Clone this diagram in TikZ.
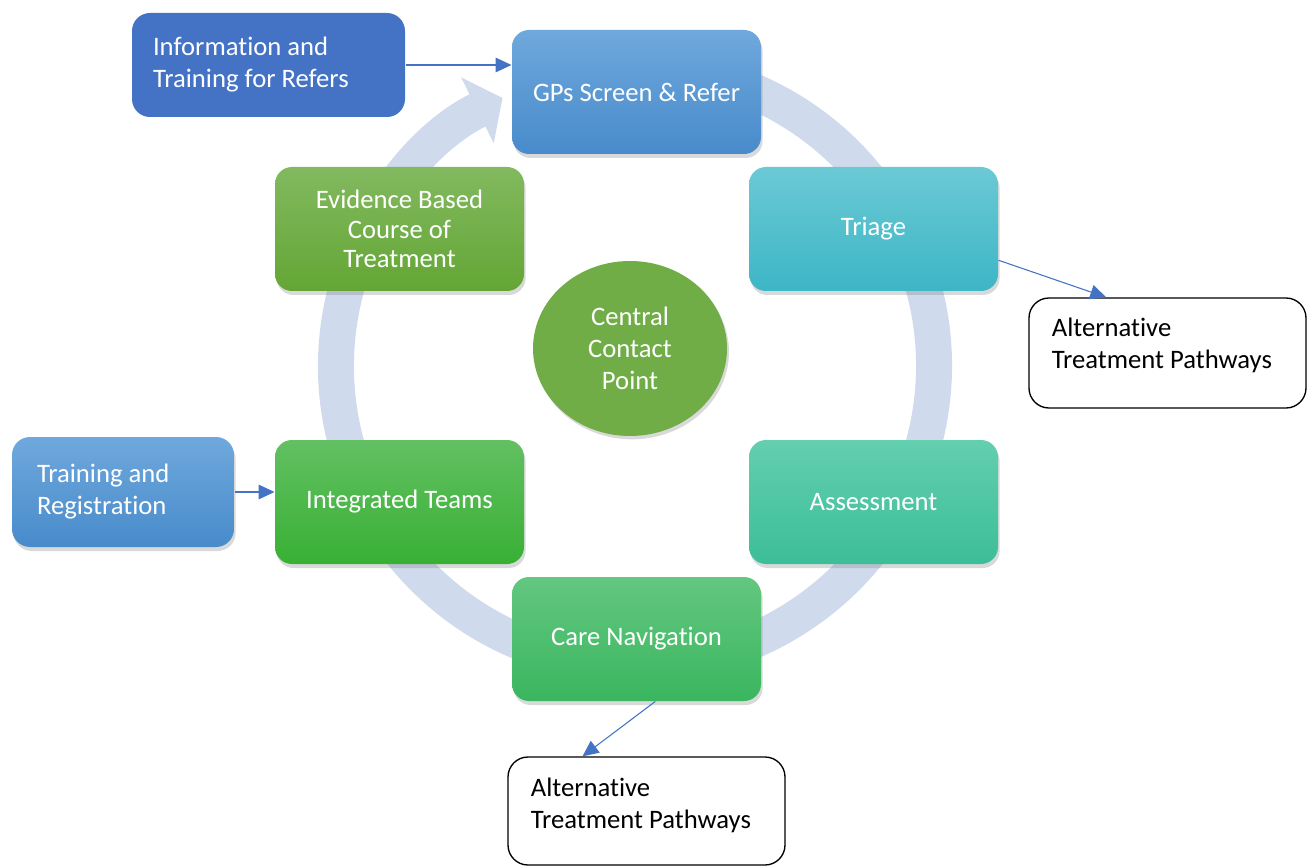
\documentclass[tikz,border=0pt]{standalone}
\usepackage{fontspec}
\setmainfont{Carlito}[Ligatures=NoCommon]
\usetikzlibrary{arrows.meta,shadows,calc,shapes.geometric}

\tikzset{every picture/.style={line width=0.75pt}}
\tikzset{
  stage/.style={rectangle, rounded corners=12.75pt, minimum width=186.75pt, minimum height=93pt,
    inner sep=0pt, align=center, text=white, font=\fontsize{20}{24}\selectfont,
    drop shadow={shadow xshift=1.2pt, shadow yshift=-3pt, opacity=0.3}},
  sidebox/.style={rectangle, rounded corners=13.5pt, inner ysep=0pt, align=flush left,
    text=white, font=\fontsize{20}{24}\selectfont},
  altbox/.style={rectangle, rounded corners=15pt, draw=black, line width=1pt, fill=white,
    minimum width=207.75pt, minimum height=82.5pt},
  alttext/.style={inner sep=0pt, align=left, anchor=north west, font=\fontsize{20}{24}\selectfont},
  link/.style={draw={rgb, 255:red, 68; green, 114; blue, 196 }, line width=0.8pt,
    -{Triangle[length=12pt,width=11pt]}},
  ringarrow/.style={draw={rgb, 255:red, 207; green, 219; blue, 237 }, line width=27pt,
    -{Triangle[length=21pt,width=54pt]}}
}

\begin{document}
\begin{tikzpicture}[x=0.75pt,y=0.75pt,yscale=-1,xscale=1]
\useasboundingbox (0,0) rectangle (1307,866);

%Circular arrow behind the stages
\coordinate (ringc) at (635,366);
\draw[ringarrow] ([shift={(280:299)}]ringc) arc[start angle=280, end angle=603.7, radius=299];

%Stages round the cycle
\node[stage, top color={rgb, 255:red, 111; green, 168; blue, 220 }, bottom color={rgb, 255:red, 72; green, 139; blue, 203 }] (gps) at (636.5,92) {GPs Screen \& Refer};
\node[stage, top color={rgb, 255:red, 107; green, 201; blue, 212 }, bottom color={rgb, 255:red, 61; green, 182; blue, 198 }] (triage) at (873.5,229) {Triage};
\node[stage, top color={rgb, 255:red, 99; green, 207; blue, 175 }, bottom color={rgb, 255:red, 60; green, 190; blue, 152 }] (assess) at (873.5,502) {Assessment};
\node[stage, top color={rgb, 255:red, 99; green, 199; blue, 128 }, bottom color={rgb, 255:red, 58; green, 182; blue, 95 }] (care) at (636.5,639) {Care Navigation};
\node[stage, top color={rgb, 255:red, 98; green, 192; blue, 98 }, bottom color={rgb, 255:red, 56; green, 176; blue, 52 }] (integ) at (399.5,502) {Integrated Teams};
\node[stage, font=\fontsize{20}{22}\selectfont, top color={rgb, 255:red, 130; green, 185; blue, 95 }, bottom color={rgb, 255:red, 100; green, 166; blue, 53 }] (evid) at (399.5,229) {Evidence Based\\Course of\\Treatment};

%Shape: Ellipse
\node[ellipse, minimum width=145.5pt, minimum height=131.25pt, inner sep=0pt, align=center, text=white,
  font=\fontsize{20}{24}\selectfont, fill={rgb, 255:red, 112; green, 173; blue, 71 },
  drop shadow={shadow xshift=1.5pt, shadow yshift=-2.5pt, opacity=0.3}] (central) at (630,348.5) {Central\\Contact\\Point};

%Side boxes
\node[sidebox, fill={rgb, 255:red, 68; green, 114; blue, 196 }, minimum width=204.75pt, minimum height=78pt,
  inner xsep=15.75pt, text width=173.25pt] (info) at (268.5,65) {Information and\\Training for Refers};
\node[sidebox, top color={rgb, 255:red, 111; green, 168; blue, 220 }, bottom color={rgb, 255:red, 72; green, 139; blue, 203 },
  minimum width=166.5pt, minimum height=82.5pt, inner xsep=18.75pt, text width=129pt,
  drop shadow={shadow xshift=1.2pt, shadow yshift=-3pt, opacity=0.3}] (train) at (123,492) {Training and\\Registration};

%Alternative pathways
\node[altbox] (altR) at (1167.5,353) {};
\node[alttext] (altRtxt) at ([shift={(23,20)}]altR.north west) {Alternative\\Treatment Pathways};
\node[altbox, minimum height=81pt] (altB) at (646.5,811) {};
\node[alttext] (altBtxt) at ([shift={(23,21)}]altB.north west) {Alternative\\Treatment Pathways};

%Connectors
\draw[link] (info.east) -- (info.east -| gps.west);
\draw[link] (train.east) -- (train.east -| integ.west);
\draw[link] ($(triage.east)!0.5!(triage.south east)$) -- ($(altR.north west)!0.28!(altR.north east)$);
\draw[link] ($(care.south)!0.15!(care.south east)$) -- ($(altB.north west)!0.27!(altB.north east)$);

\end{tikzpicture}
\end{document}
